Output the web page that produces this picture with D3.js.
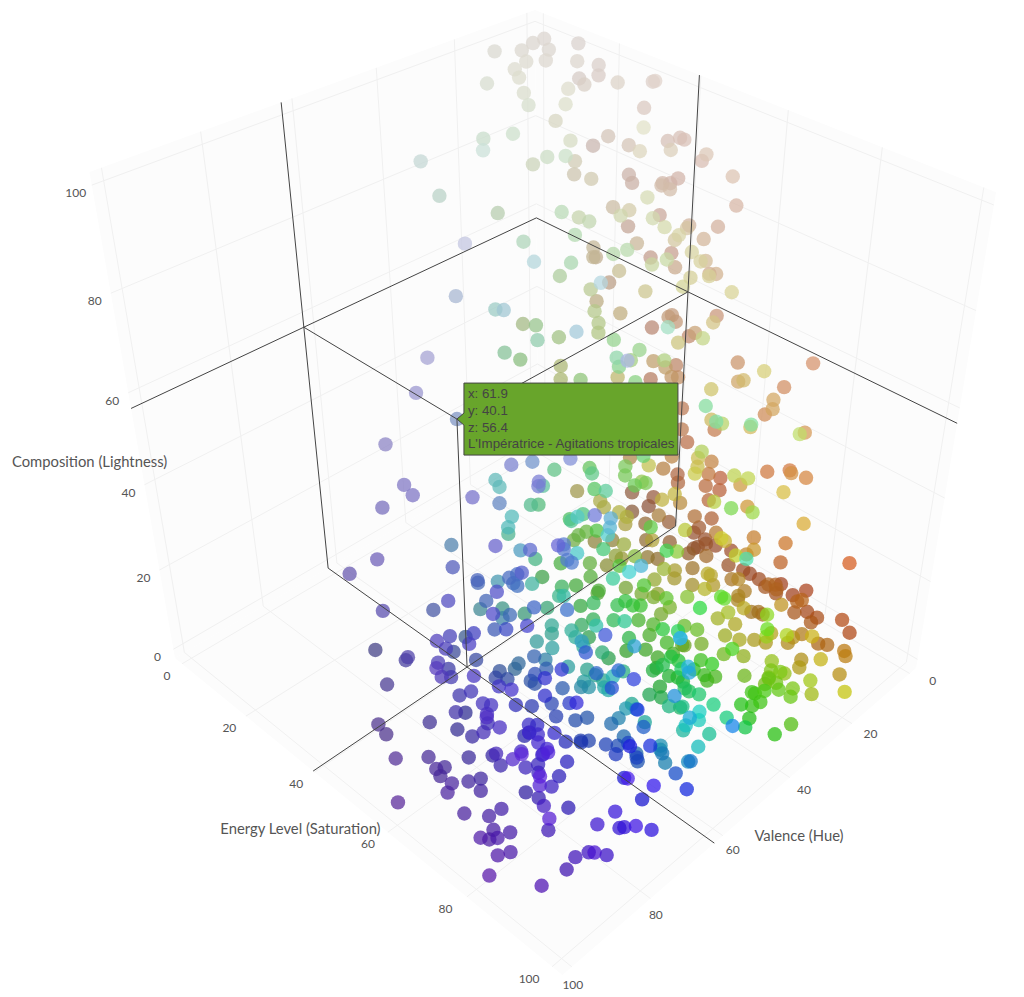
<!DOCTYPE html>
<html><head><meta charset="utf-8"><script src="https://d3js.org/d3.v7.min.js"></script>
<style>html,body{margin:0;background:#fff}svg{display:block}</style></head><body><svg id="c" width="1024" height="997"></svg>
<script>
const valence=[7,10,10,14,18,14,17,21,10,23,5,8,3,8,3,6,29,27,30,20,2,8,4,20,27,25,3,25,22,42,40,48,2,8,
18,3,2,2,12,3,7,7,50,28,36,38,15,17,8,17,3,2,2,4,3,8,47,24,12,18,4,36,40,28,32,2,26,24,
4,7,14,20,16,5,9,68,44,40,15,36,12,20,3,3,12,54,42,35,28,15,28,60,50,55,28,15,30,38,32,56,46,28,
44,38,25,25,36,40,45,38,66,33,42,20,40,12,30,12,5,10,8,4,15,12,36,27,28,8,20,20,10,8,20,22,18,55,
8,20,20,8,7,7,3,47,5,18,4,10,20,26,7,12,20,44,18,45,27,6,5,6,4,27,20,9,20,25,22,7,3,4,
10,10,22,36,36,42,12,40,45,45,60,68,66,52,70,75,76,78,78,78,78,80,80,74,52,60,68,48,47,45,52,52,48,58,
74,56,68,47,43,72,62,40,60,68,42,68,62,55,64,62,20,42,47,5,38,30,35,4,5,20,20,13,3,22,22,68,22,47,
52,45,56,6,22,20,10,38,12,6,8,5,24,4,5,10,18,4,3,40,35,35,33,55,52,20,18,20,12,8,62,45,25,42,
30,5,8,5,10,52,25,30,22,15,13,60,35,23,38,55,52,26,20,13,20,25,20,37,48,40,44,38,30,50,38,36,30,35,
25,18,22,18,30,5,20,16,6,12,12,7,17,44,27,10,6,6,10,8,25,13,5,3,5,25,18,35,13,30,15,10,22,8,
14,6,4,48,24,3,12,5,5,4,3,4,14,8,2,8,2,13,15,2,8,6,7,19,35,12,4,4,5,7,4,8,7,15,
5,12,13,12,30,34,28,19,26,16,13,16,19,10,10,19,20,22,20,21,24,26,37,31,42,24,25,36,15,33,33,30,30,55,
17,19,20,12,13,16,22,26,25,30,32,33,27,27,30,30,29,32,30,31,36,36,37,37,38,40,31,36,37,40,38,40,55,45,
38,45,46,43,47,48,51,55,52,51,47,58,44,40,39,34,49,52,68,72,62,47,60,42,44,48,50,50,50,44,50,45,44,50,
66,44,43,42,41,40,30,36,38,48,43,37,30,30,38,36,32,44,55,42,56,40,38,38,44,47,64,55,50,52,52,60,56,52,
70,60,72,64,62,50,52,50,50,54,55,52,52,52,60,48,43,42,44,43,42,42,42,56,45,42,45,44,57,48,46,60,72,65,
68,74,68,66,62,60,58,56,56,60,50,51,56,68,64,50,60,54,75,75,66,70,65,64,64,58,62,72,64,68,66,64,55,57,
80,80,78,78,62,60,60,50,72,74,78,66,62,54,50,60,74,48,56,64,68,74,78,60,72,76,76,66,66,74,78,76,78,72,
82,80,76,58,58,62,66,64,62,78,80,76,78,76,76,72,78,78,78,72,80,82,80,79,86,86,78,80,78,76,76,72,78,78,
90,85,84,86,86,87,89,84,82,84,96,80,78,82,80,85,80,88,80,78,82,84,74,80,88,80,76,86,78,80,84,78,88,84,
85,87,89,88,87,92,90,90,92,90,96,92,86,85,84,86,83,82,80,80,78,80,72,82,72,82,78,68,62,58,56,58,60,55,61.9];
const energy=[9,9,13,10,7,16,14,15,20,18,16,20,19,28,32,35,16,23,27,27,13,26,31,24,34,31,19,44,46,28,33,34,17,31,
42,36,38,39,44,44,48,54,21,26,37,43,24,30,39,26,27,27,38,36,37,41,22,49,31,40,53,25,44,37,43,34,52,53,
28,45,50,53,49,50,50,50,39,47,29,55,37,56,33,38,53,51,48,39,40,30,41,39,38,45,42,36,25,36,36,62,44,42,
34,32,30,30,45,56,61,60,81,54,59,40,61,42,59,45,42,45,45,35,29,27,52,53,57,43,58,60,54,51,56,56,38,66,
27,46,65,42,42,43,34,73,51,60,44,50,54,64,58,62,62,79,61,82,70,53,44,45,45,66,60,55,60,72,61,53,53,43,
46,44,50,56,56,65,37,51,56,47,56,59,70,39,67,48,46,40,44,46,38,38,30,56,40,48,65,47,43,43,43,42,38,33,
61,49,63,44,49,73,65,44,65,44,41,61,54,42,46,52,30,54,61,32,60,55,60,37,44,55,52,51,35,38,39,77,43,53,
59,54,70,33,45,43,40,64,45,43,51,53,61,48,50,58,66,51,53,53,46,44,41,69,66,35,38,50,42,45,65,59,47,71,
64,49,50,50,56,59,45,54,44,45,46,64,47,41,57,76,71,58,56,55,56,55,64,49,64,48,48,63,52,54,52,50,56,66,
56,59,65,64,67,73,73,66,68,70,70,65,69,88,86,76,66,71,74,76,75,65,51,53,52,68,78,79,67,80,81,67,68,73,
70,71,85,92,73,57,67,52,58,61,62,65,67,70,69,72,75,68,68,72,78,68,71,64,79,64,85,87,80,80,77,77,76,78,
70,71,70,72,85,88,84,79,87,82,82,81,88,84,86,78,76,74,73,72,72,78,83,77,79,70,73,79,68,69,72,71,67,85,
85,86,91,91,92,93,98,93,93,92,93,91,85,88,89,87,86,88,86,89,90,88,88,90,89,88,82,79,78,81,77,77,87,78,
78,80,83,77,87,81,87,88,85,87,90,99,92,90,95,95,88,88,86,66,58,47,64,51,56,51,51,51,56,56,62,54,55,57,
78,61,61,62,63,64,59,64,62,67,64,64,61,63,69,69,68,76,85,71,76,61,64,67,60,61,72,63,59,53,49,56,55,57,
72,59,70,60,58,60,61,62,64,64,63,66,67,68,76,67,70,70,73,74,75,75,73,88,79,71,71,73,86,78,79,63,70,65,
72,79,63,67,68,69,73,73,77,71,71,75,89,87,78,83,82,73,75,71,73,73,72,73,77,76,78,89,82,90,81,84,82,84,
76,78,72,75,44,51,52,46,59,49,36,36,46,36,38,50,60,42,44,50,57,49,50,38,53,56,50,41,47,28,42,39,50,46,
54,53,51,50,49,49,52,53,57,59,38,63,68,53,56,63,61,63,54,50,64,66,67,48,42,44,62,63,58,52,70,65,72,74,
51,54,57,57,58,62,63,63,64,66,58,59,63,68,67,75,72,80,73,74,79,82,77,76,84,79,77,82,71,76,81,81,86,82,
72,71,67,73,76,74,74,76,78,79,80,88,88,89,91,94,94,91,94,95,99,93,92,99,88,97,99,98,91,91,84,79,81,82,40.1];
const composition=[99,99,99,99,99,99,99,99,99,99,93,94,94,97,97,99,99,99,99,99,98,86,92,92,94,99,96,83,99,97,99,99,79,86,
92,87,88,88,91,86,90,88,93,87,95,98,80,82,81,84,77,75,80,79,79,81,86,88,75,80,81,80,89,81,84,71,86,84,
67,75,79,81,77,76,75,96,83,86,67,85,70,79,62,65,73,88,82,73,68,56,64,79,72,77,62,56,55,63,58,81,67,60,
59,54,46,43,55,70,71,69,89,62,67,46,64,47,63,47,43,44,43,36,65,63,83,78,81,66,78,76,70,68,74,73,67,91,
56,67,75,55,55,54,47,83,58,66,50,56,60,68,52,52,54,70,46,69,54,34,34,30,26,46,38,29,36,43,36,24,21,17,
26,22,32,42,40,52,22,41,45,41,55,60,66,38,62,78,71,59,53,52,45,35,27,55,37,42,59,39,32,31,32,29,23,23,
48,30,45,20,30,54,44,15,39,30,11,39,31,18,26,29,14,39,45,7,41,35,40,8,16,27,24,19,4,17,16,60,17,34,
41,35,49,3,17,13,6,34,12,6,13,12,24,5,8,14,21,5,4,28,21,19,15,46,41,4,5,13,4,3,43,30,13,35,
24,2,3,3,7,33,9,17,6,3,2,39,14,3,21,42,36,14,9,5,7,9,13,13,28,12,14,20,8,19,12,9,9,17,
6,6,11,9,15,58,63,56,51,52,50,44,48,71,60,47,31,34,37,36,44,31,19,18,16,35,39,45,27,42,32,18,25,19,
19,12,19,49,25,5,15,5,3,3,2,3,10,7,3,7,5,7,7,2,8,4,7,12,25,7,5,3,3,3,2,7,3,11,
3,3,3,3,22,23,15,7,16,6,5,4,12,2,3,4,4,4,10,6,5,5,17,8,27,8,12,26,6,11,12,6,3,32,
3,3,9,6,6,4,7,9,5,9,9,10,9,8,11,10,7,10,6,9,11,9,10,9,8,9,6,7,6,14,11,10,27,14,
8,10,12,9,13,9,14,16,10,12,12,24,9,7,6,5,8,7,32,33,26,10,28,10,15,16,10,8,12,11,17,9,6,11,
35,14,17,18,17,17,10,10,11,20,11,8,7,10,10,6,5,21,32,17,25,4,5,5,4,8,26,17,10,7,6,12,8,5,
26,11,24,13,8,5,4,5,5,6,6,6,6,10,22,8,7,7,11,13,12,8,7,27,10,3,3,3,21,7,6,9,20,10,
17,26,10,9,6,6,6,6,11,18,4,3,7,26,22,6,13,7,17,16,7,10,6,6,8,5,7,22,12,20,10,10,5,6,
19,19,17,14,23,26,26,17,36,29,21,14,20,7,6,18,33,6,11,17,24,21,23,5,23,25,20,7,9,4,14,10,18,10,
22,18,14,5,3,5,8,7,8,21,6,20,24,11,14,13,16,17,9,2,17,19,16,3,3,2,12,12,6,2,16,7,17,18,
4,3,2,3,2,4,4,3,3,3,3,3,5,12,7,18,14,25,11,11,20,24,11,12,23,11,9,18,2,6,11,6,15,6,
4,3,2,2,3,4,2,4,3,3,3,4,3,6,8,12,9,13,13,14,15,16,12,19,14,28,25,16,10,10,3,3,4,4,56.4];
const tickValues=[0,20,40,60,80,100];
const hoverLines=["x: 61.9","y: 40.1","z: 56.4","L'Impératrice - Agitations tropicales"];
const hoverPoint={x:61.9,y:40.1,z:56.4};
const titles={x:"Valence (Hue)",y:"Energy Level (Saturation)",z:"Composition (Lightness)"};

// data -> unit cube
const sx=d3.scaleLinear([0,100],[0,1]),sy=d3.scaleLinear([0,100],[0,1]),sz=d3.scaleLinear([0,100],[0,1]);
const tickCube=d3.scaleLinear([0,100],[0.022,0.978]);
// perspective camera as a 3x4 matrix on the unit cube
function project(u,v,t){const w=1-.1565*u-.145*v-.155*t;
 return [(538-390.4*u+245.2*v-86*t)/w,(445+110*u+126.1*v-436.5*t)/w,w];}
const line=pts=>"M"+pts.map(p=>project(...p).slice(0,2).map(n=>n.toFixed(2)).join(",")).join("L");
const hueOf=d3.scaleLinear([0,10,20,30,40,50,60,70,85,100],[12,32,54,85,115,170,218,238,256,270]);
const lightOf=d3.scaleLinear([0,15,56,100],[.35,.46,.62,.84]);
const colour=(x,y,z)=>d3.hsl(hueOf(x),Math.min(1,(.15+.8*y/100)*(1-.4*z/100)),lightOf(z)).formatHex();

const svg=d3.select("#c");
// walls
const walls=[[[0,0,0],[1,0,0],[1,1,0],[0,1,0]],[[0,0,0],[1,0,0],[1,0,1],[0,0,1]],[[0,0,0],[0,1,0],[0,1,1],[0,0,1]]];
svg.append("g").selectAll("path").data(walls).join("path").attr("d",d=>line(d)+"Z").attr("fill","#fcfcfc");
// grid
const grid=[];
tickValues.forEach(k=>{const c=tickCube(k);
 grid.push([[c,0,0],[c,1,0]],[[0,c,0],[1,c,0]],[[c,0,0],[c,0,1]],[[0,c,0],[0,c,1]],[[0,0,c],[1,0,c]],[[0,0,c],[0,1,c]]);});
svg.append("g").selectAll("path").data(grid).join("path").attr("d",line).attr("fill","none").attr("stroke","#f0f0f0").attr("stroke-width",1);
// points
const pts=valence.map((x,i)=>({x,y:energy[i],z:composition[i],p:project(sx(x),sy(energy[i]),sz(composition[i]))}));
pts.sort((a,b)=>b.p[2]-a.p[2]);
svg.append("g").selectAll("circle").data(pts).join("circle")
 .attr("cx",d=>d.p[0]).attr("cy",d=>d.p[1]).attr("r",7.2)
 .attr("fill",d=>colour(d.x,d.y,d.z)).attr("fill-opacity",.72);
// spikes
const hu=sx(hoverPoint.x),hv=sy(hoverPoint.y),ht=sz(hoverPoint.z);
const spikes=[[[hu,hv,ht],[0,hv,ht]],[[hu,hv,ht],[hu,0,ht]],[[hu,hv,ht],[hu,hv,0]],
 [[0,0,ht],[1,0,ht]],[[0,0,ht],[0,1,ht]],[[hu,0,0],[hu,0,1]],[[0,hv,0],[0,hv,1]],[[hu,0,0],[hu,1,0]],[[0,hv,0],[1,hv,0]]];
svg.append("g").selectAll("path").data(spikes).join("path").attr("d",line).attr("fill","none").attr("stroke","#444").attr("stroke-width",1);
// tick labels
const font='Lato, "Open Sans", sans-serif';
const tickSpec=[{f:c=>[1,c,0],dx:d=>-15-.08*d,dy:d=>16},{f:c=>[c,1,0],dx:d=>23-.22*d,dy:d=>12+.1*d},{f:c=>[1,0,c],dx:d=>-16,dy:d=>12}];
tickSpec.forEach(s=>{
 svg.append("g").selectAll("text").data(tickValues).join("text")
  .attr("x",d=>project(...s.f(tickCube(d)))[0]+s.dx(d)).attr("y",d=>project(...s.f(tickCube(d)))[1]+s.dy(d))
  .attr("text-anchor","middle").attr("font-family",font).attr("font-size",12).attr("fill","#555").text(d=>d);
});
// axis titles
[{t:titles.x,a:[.5,1,0],o:[42,35]},{t:titles.y,a:[1,.5,0],o:[-50,32]},{t:titles.z,a:[1,0,.5],o:[-47,27]}].forEach(d=>{
 const p=project(...d.a);
 svg.append("text").attr("x",p[0]+d.o[0]).attr("y",p[1]+d.o[1]).attr("text-anchor","middle")
  .attr("font-family",font).attr("font-size",14.8).attr("fill","#555").text(d.t);});
// hover label
const hp=project(hu,hv,ht);
const bx=hp[0]+7,by=hp[1]-36;
const g=svg.append("g");
g.append("path").attr("d",`M${hp[0]},${hp[1]}L${bx},${hp[1]-6}V${by}H${bx+214}V${by+72}H${bx}V${hp[1]+6}Z`)
 .attr("fill","#68a52b").attr("stroke","#444").attr("stroke-width",1);
g.selectAll("text").data(hoverLines).join("text").attr("x",bx+4).attr("y",(d,i)=>by+[15,32,49,65][i])
 .attr("font-family",'"Liberation Sans",Arial,sans-serif').attr("font-size",13.3).attr("fill","#444").text(d=>d);
</script></body></html>
